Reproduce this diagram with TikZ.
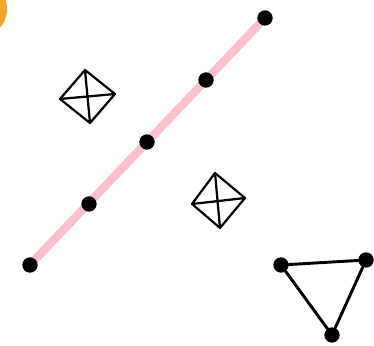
\documentclass[tikz,border=0pt]{standalone}
\usetikzlibrary{positioning}
\definecolor{blobor}{HTML}{F5A623}
\definecolor{lnpink}{HTML}{FFC0CB}

\begin{document}
\begin{tikzpicture}[x=0.03cm, y=-0.03cm,
  dot/.style={circle, fill=black, inner sep=0pt, minimum size=0.46cm},
  edge/.style={line width=2.5pt, line cap=round, line join=round},
  cross/.style={line width=1.9pt, line join=round}]
  \useasboundingbox (0,0) rectangle (374,345);
  % orange blob cut by the corner
  \fill[blobor] (-10,9) ellipse [x radius=17, y radius=23];
  % pink line with its dots
  \coordinate (lo) at (30,265);
  \coordinate (hi) at (265,18);
  \draw[lnpink, line width=0.25cm] (lo) -- (hi);
  \node[dot] (p1) at (lo) {};
  \node[dot] (p2) at (89,204) {};
  \node[dot] (p3) at (147,142) {};
  \node[dot] (p4) at (206,80) {};
  \node[dot] (p5) at (hi) {};
  % crossed diamonds
  \coordinate (a1) at (85,70);
  \coordinate (a2) at (115,94);
  \coordinate (a3) at (90,123);
  \coordinate (a4) at (60,99);
  \draw[cross] (a1) -- (a2) -- (a3) -- (a4) -- cycle (a1) -- (a3) (a2) -- (a4);
  \coordinate (b1) at (215,173);
  \coordinate (b2) at (245,198);
  \coordinate (b3) at (220,228);
  \coordinate (b4) at (192,204);
  \draw[cross] (b1) -- (b2) -- (b3) -- (b4) -- cycle (b1) -- (b3) (b2) -- (b4);
  % triangle
  \node[dot] (t1) at (281,265) {};
  \node[dot] (t2) at (366,260) {};
  \node[dot] (t3) at (332,335) {};
  \draw[edge] (t1) -- (t2);
  \draw[edge] (t2) -- (t3);
  \draw[edge] (t3) -- (t1);
\end{tikzpicture}
\end{document}
